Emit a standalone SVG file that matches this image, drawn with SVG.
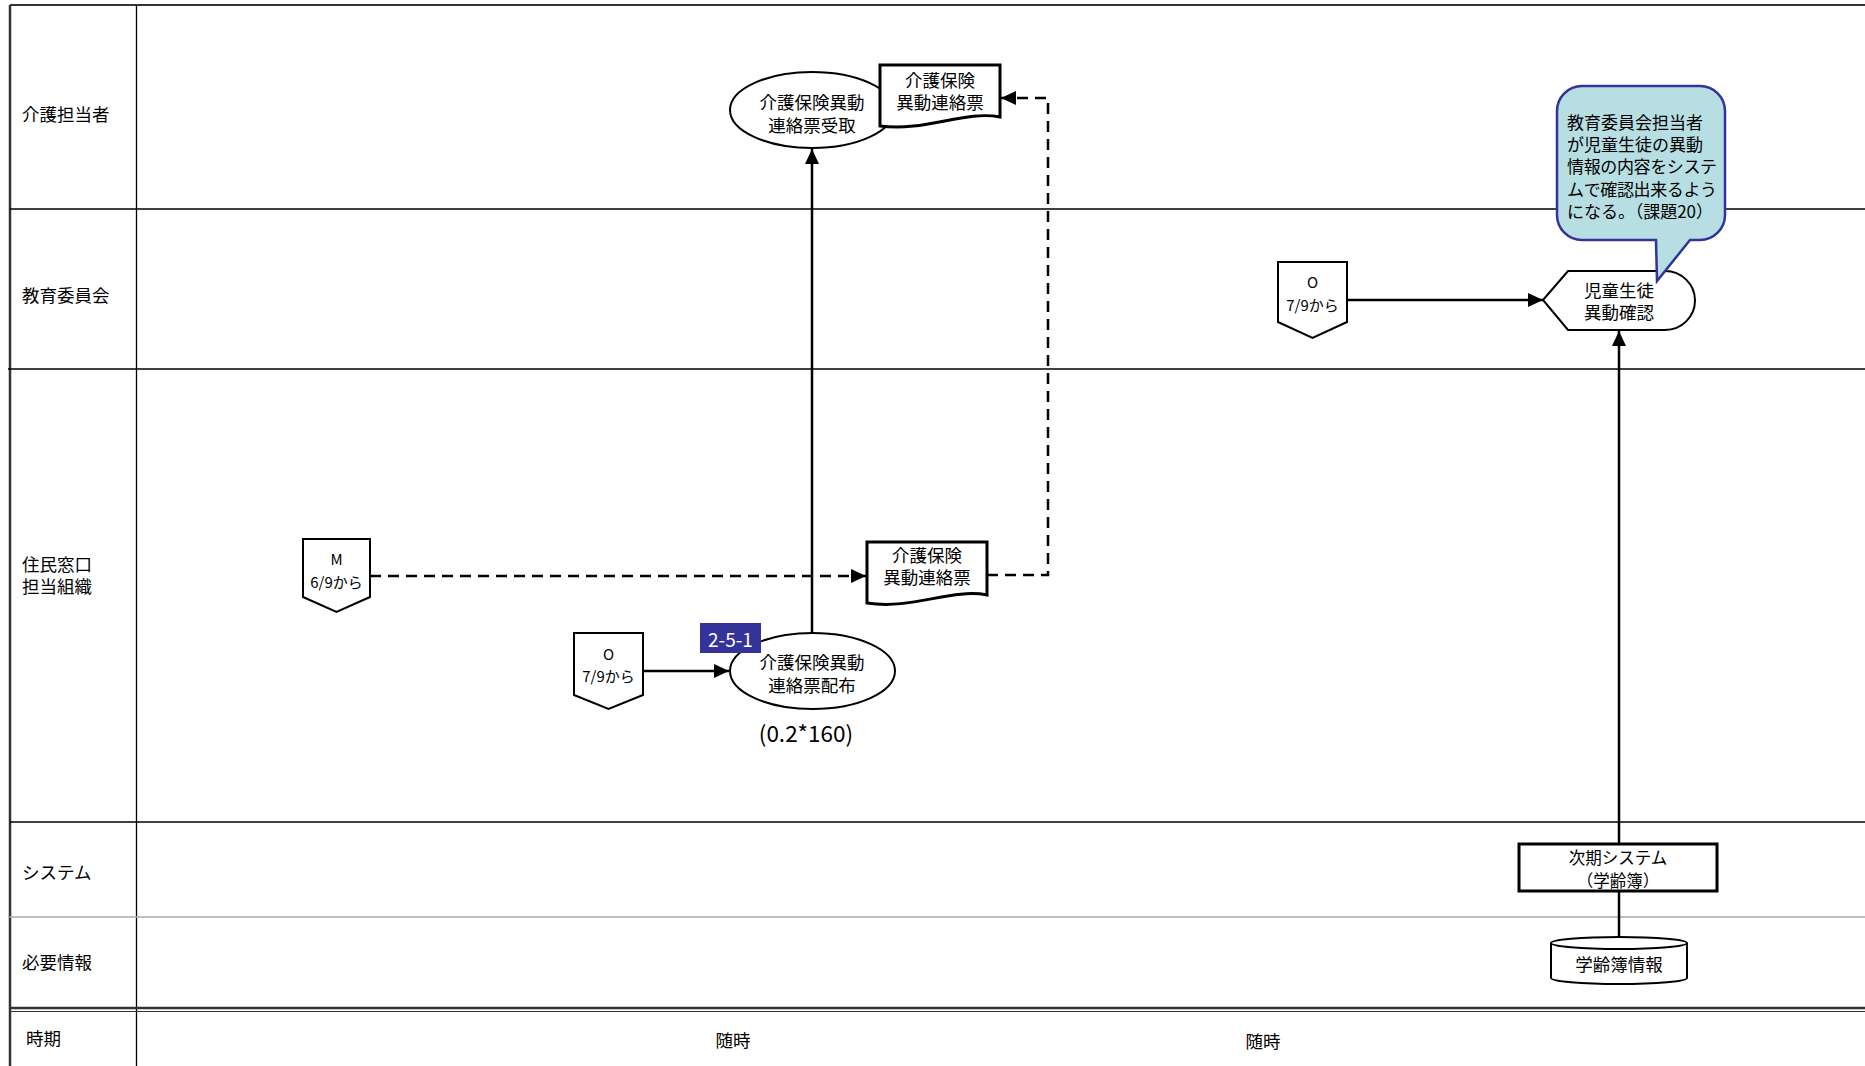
<svg xmlns="http://www.w3.org/2000/svg" width="1865" height="1066" viewBox="0 0 1865 1066">
<style>
text{font-family:"Noto Sans CJK JP","Noto Sans",sans-serif;fill:#000;dominant-baseline:central;transform:translateY(-1.5px)}
.lane{font-size:17.5px}
.t{font-size:17.5px;text-anchor:middle}
.s{font-size:15px;text-anchor:middle}
.c{font-size:17px}
.shape{fill:#fff;stroke:#000;stroke-width:2}
.thick{fill:#fff;stroke:#000;stroke-width:3}
.conn{fill:none;stroke:#000;stroke-width:2.5}
.dash{stroke-dasharray:11 7}
.grid{stroke:#000;stroke-width:1.3}
</style>
<defs>
<marker id="arr" markerUnits="userSpaceOnUse" markerWidth="15" markerHeight="14" refX="15" refY="7" orient="auto">
<path d="M0,0 L15,7 L0,14 Z" fill="#000"/>
</marker>
</defs>
<rect width="1865" height="1066" fill="#fff"/>
<g id="frame">
<line x1="10" y1="5" x2="1865" y2="5" stroke="#333" stroke-width="2"/>
<line x1="10" y1="5" x2="10" y2="1066" stroke="#333" stroke-width="2.5"/>
<line x1="136.5" y1="5" x2="136.5" y2="1066" class="grid"/>
<line x1="10" y1="209" x2="1865" y2="209" class="grid"/>
<line x1="8" y1="369" x2="1865" y2="369" class="grid"/>
<line x1="10" y1="822" x2="1865" y2="822" class="grid"/>
<line x1="8" y1="917" x2="1865" y2="917" stroke="#aaa" stroke-width="1.3"/>
<line x1="10" y1="1008" x2="1865" y2="1008" stroke="#333" stroke-width="2.5"/>
<line x1="10" y1="1011.5" x2="1865" y2="1011.5" stroke="#333" stroke-width="1"/>
</g>
<g id="lanes">
<text class="lane" x="22" y="115">介護担当者</text>
<text class="lane" x="22" y="296">教育委員会</text>
<text class="lane" x="22" y="565">住民窓口</text>
<text class="lane" x="22" y="587">担当組織</text>
<text class="lane" x="22" y="873">システム</text>
<text class="lane" x="22" y="963">必要情報</text>
<text class="lane" x="26" y="1039">時期</text>
<text class="lane" x="733" y="1041" text-anchor="middle">随時</text>
<text class="lane" x="1263" y="1042" text-anchor="middle">随時</text>
</g>
<g id="connectors">
<path class="conn dash" d="M370,576 H866" marker-end="url(#arr)"/>
<path class="conn dash" d="M987,575 H1048 V98 H1001" marker-end="url(#arr)"/>
<path class="conn" d="M812,633 V149" marker-end="url(#arr)"/>
<path class="conn" d="M643,671 H729" marker-end="url(#arr)"/>
<path class="conn" d="M1347,300 H1543" marker-end="url(#arr)"/>
<path class="conn" d="M1619,844 V331" marker-end="url(#arr)"/>
<path class="conn" d="M1619,891 V938"/>
</g>
<g id="n-receive">
<ellipse class="shape" cx="812" cy="110" rx="82" ry="38"/>
<text class="t" x="812" y="103">介護保険異動</text>
<text class="t" x="812" y="126">連絡票受取</text>
</g>
<g id="n-doc-top">
<path class="thick" d="M880,65 H1000 V117 C965,110 925,132 880,126 Z"/>
<text class="t" x="940" y="81">介護保険</text>
<text class="t" x="940" y="103">異動連絡票</text>
</g>
<g id="n-off-m">
<path class="shape" d="M303,539 H370 V597 L336.5,612 L303,597 Z"/>
<text class="s" x="336.5" y="560">M</text>
<text class="s" x="336.5" y="583">6/9から</text>
</g>
<g id="n-doc-mid">
<path class="thick" d="M867,542 H987 V595 C952,588 912,610 867,603 Z"/>
<text class="t" x="927" y="556">介護保険</text>
<text class="t" x="927" y="578">異動連絡票</text>
</g>
<g id="n-off-o1">
<path class="shape" d="M574,633 H643 V695 L608.5,709 L574,695 Z"/>
<text class="s" x="608.5" y="655">O</text>
<text class="s" x="608.5" y="677">7/9から</text>
</g>
<g id="n-distribute">
<ellipse class="shape" cx="812.5" cy="671" rx="82.5" ry="38"/>
<text class="t" x="812" y="663">介護保険異動</text>
<text class="t" x="812" y="686">連絡票配布</text>
</g>
<g id="n-tag">
<rect x="700" y="623" width="61" height="30" fill="#333399"/>
<text x="730.5" y="639.5" text-anchor="middle" style="font-size:19px;fill:#fff">2-5-1</text>
</g>
<g id="n-count">
<text x="806" y="733" text-anchor="middle" style="font-size:22.5px">(0.2*160)</text>
</g>
<g id="n-off-o2">
<path class="shape" d="M1278,262 H1347 V322 L1312.5,338 L1278,322 Z"/>
<text class="s" x="1312.5" y="283">O</text>
<text class="s" x="1312.5" y="306">7/9から</text>
</g>
<g id="n-check">
<path class="shape" stroke-width="2.5" d="M1543,300 L1568,271 H1665 A30,29.5 0 0 1 1665,330 H1568 Z"/>
<text class="t" x="1619" y="291">児童生徒</text>
<text class="t" x="1619" y="313">異動確認</text>
</g>
<g id="n-system">
<rect class="thick" x="1519" y="844" width="198" height="47"/>
<text class="s" style="font-size:16.5px" x="1618" y="858">次期システム</text>
<text class="s" style="font-size:16.5px" x="1618" y="881">（学齢簿）</text>
</g>
<g id="n-db">
<path class="shape" d="M1551,943 V978 A68,6 0 0 0 1687,978 V943"/>
<ellipse class="shape" cx="1619" cy="943" rx="68" ry="6"/>
<text class="t" x="1619" y="965">学齢簿情報</text>
</g>
<g id="n-callout">
<path d="M1582,86 H1700 A25,25 0 0 1 1725,111 V215 A25,25 0 0 1 1700,240 H1690 L1657,281 L1656,240 H1582 A25,25 0 0 1 1557,215 V111 A25,25 0 0 1 1582,86 Z" fill="#b7dee2" stroke="#333399" stroke-width="2.5"/>
<text class="c" x="1567" y="123">教育委員会担当者</text>
<text class="c" x="1567" y="145">が児童生徒の異動</text>
<text class="c" x="1567" y="167" textLength="150">情報の内容をシステ</text>
<text class="c" x="1567" y="190" textLength="150">ムで確認出来るよう</text>
<text class="c" x="1567" y="212" textLength="146">になる。（課題20）</text>
</g>
</svg>
